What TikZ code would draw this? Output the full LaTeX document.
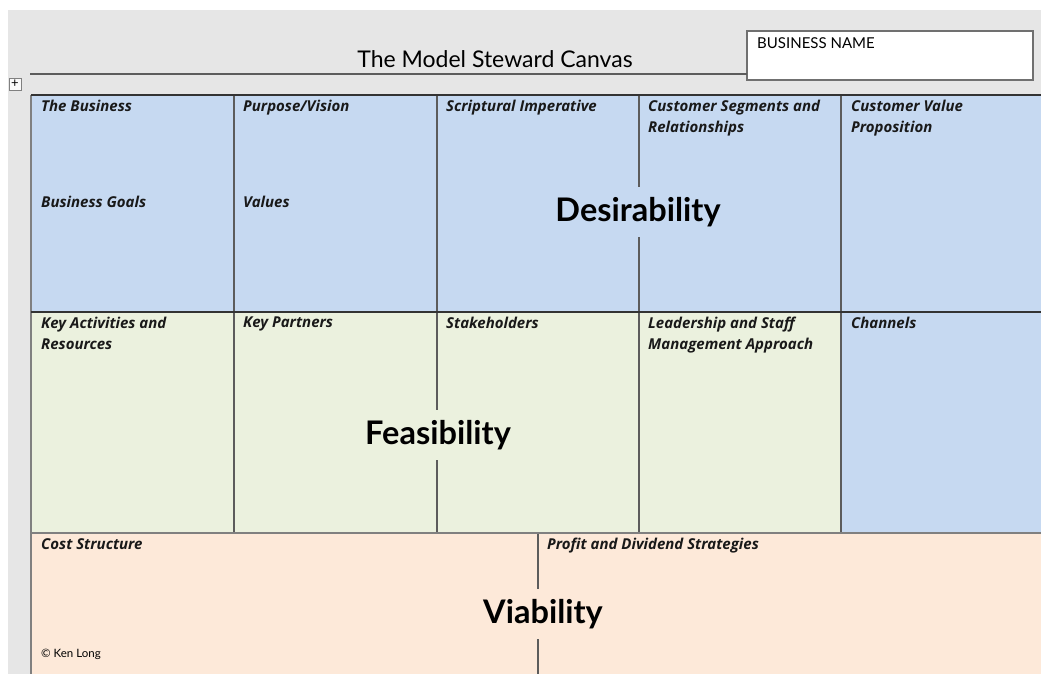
\documentclass[tikz,border=0pt]{standalone}
\usepackage{fontspec}
\setmainfont{Lato}
\newfontfamily\headfont{Open Sans}
\usepackage{tikz}
\definecolor{desblue}{HTML}{C6D9F1}
\definecolor{feasgreen}{HTML}{EBF1DE}
\definecolor{viapeach}{HTML}{FDE9D9}
\definecolor{pagegray}{HTML}{E6E6E6}
\definecolor{rulegray}{HTML}{333333}
\begin{document}
\begin{tikzpicture}[x=1pt, y=-1pt,
    cell/.style={anchor=north west, inner sep=0, outer sep=0},
    head/.style={anchor=north west, align=left, inner sep=0,
      font=\headfont\fontsize{15}{21}\selectfont\bfseries\itshape, text=black!90},
    big/.style={inner xsep=2, inner ysep=10, font=\fontsize{32.5}{35}\selectfont\bfseries},
    thickrule/.style={draw=rulegray, line width=2.4},
    rule/.style={draw=rulegray!80, line width=1.3}]
    \useasboundingbox (0,0) rectangle (1041,674);
    \fill [pagegray] (8,10) rectangle (1041,674);

    % title and business name
    \node (title) at (495,59) {\fontsize{23}{27}\selectfont The Model Steward Canvas};
    \node (bn) [cell, draw=rulegray!70, line width=1.2, fill=white,
      minimum width=286, minimum height=49] at (747,31) {};
    \node (bnl) [anchor=north west, inner sep=0, font=\fontsize{15}{17}\selectfont]
      at ([shift={(10,6)}]bn.north west) {BUSINESS NAME};
    \coordinate (tl) at (30,74);
    \draw [rule] (tl) -- (tl -| bn.west);
    \node (mv) [draw=gray, fill=white!95!gray, minimum size=12, inner sep=0,
      font=\fontsize{13}{13}\selectfont] at (15,84) {+};

    % cells
    \node (tb)  [cell, fill=desblue, minimum width=203, minimum height=217] at (31,95) {};
    \node (pv)  [cell, fill=desblue, minimum width=203, minimum height=217] at (234,95) {};
    \node (si)  [cell, fill=desblue, minimum width=202, minimum height=217] at (437,95) {};
    \node (csr) [cell, fill=desblue, minimum width=202, minimum height=217] at (639,95) {};
    \node (cvp) [cell, fill=desblue, minimum width=200, minimum height=217] at (841,95) {};
    \node (kar) [cell, fill=feasgreen, minimum width=203, minimum height=221] at (31,312) {};
    \node (kp)  [cell, fill=feasgreen, minimum width=203, minimum height=221] at (234,312) {};
    \node (sh)  [cell, fill=feasgreen, minimum width=202, minimum height=221] at (437,312) {};
    \node (lsm) [cell, fill=feasgreen, minimum width=202, minimum height=221] at (639,312) {};
    \node (ch)  [cell, fill=desblue, minimum width=200, minimum height=221] at (841,312) {};
    \node (cs)  [cell, fill=viapeach, minimum width=507, minimum height=141] at (31,533) {};
    \node (pds) [cell, fill=viapeach, minimum width=503, minimum height=141] at (538,533) {};

    % rules
    \draw [rule] (tb.north east) -- (kp.south west);
    \draw [rule] (pv.north east) -- (sh.south west);
    \draw [rule] (si.north east) -- (lsm.south west);
    \draw [rule] (csr.north east) -- (ch.south west);
    \draw [rule] (cs.north east) -- (cs.south east);
    \draw [rule, draw=gray] (tb.north west) -- (cs.south west);
    \draw [thickrule] (tb.north west) -- (cvp.north east);
    \draw [thickrule] (kar.north west) -- (ch.north east);
    \draw [thickrule, draw=gray, line width=2] (cs.north west) -- (pds.north east);

    % headings
    \node (h1) [head] at ([shift={(10,5)}]tb.north west) {The Business};
    \node (h2) [head] at ([shift={(10,101)}]tb.north west) {Business Goals};
    \node (h3) [head] at ([shift={(9,5)}]pv.north west) {Purpose/Vision};
    \node (h4) [head] at ([shift={(9,101)}]pv.north west) {Values};
    \node (h5) [head] at ([shift={(9,5)}]si.north west) {Scriptural Imperative};
    \node (h6) [head] at ([shift={(9,5)}]csr.north west) {Customer Segments and\\Relationships};
    \node (h7) [head] at ([shift={(10,5)}]cvp.north west) {Customer Value\\Proposition};
    \node (h8) [head] at ([shift={(10,5)}]kar.north west) {Key Activities and\\Resources};
    \node (h9) [head] at ([shift={(9,5)}]kp.north west) {Key Partners};
    \node (h10) [head] at ([shift={(9,5)}]sh.north west) {Stakeholders};
    \node (h11) [head] at ([shift={(9,5)}]lsm.north west) {Leadership and Staff\\Management Approach};
    \node (h12) [head] at ([shift={(10,5)}]ch.north west) {Channels};
    \node (h13) [head] at ([shift={(10,5)}]cs.north west) {Cost Structure};
    \node (h14) [head] at ([shift={(9,5)}]pds.north west) {Profit and Dividend Strategies};
    \node (kl) [anchor=south west, inner sep=0, font=\fontsize{11.5}{13}\selectfont]
      at ([shift={(10,-14)}]cs.south west) {© Ken Long};

    % section labels
    \node (des) [big, fill=desblue] at (638,212) {Desirability};
    \node (fea) [big, fill=feasgreen] at (438,435) {Feasibility};
    \node (via) [big, fill=viapeach] at (543,614) {Viability};
\end{tikzpicture}
\end{document}
